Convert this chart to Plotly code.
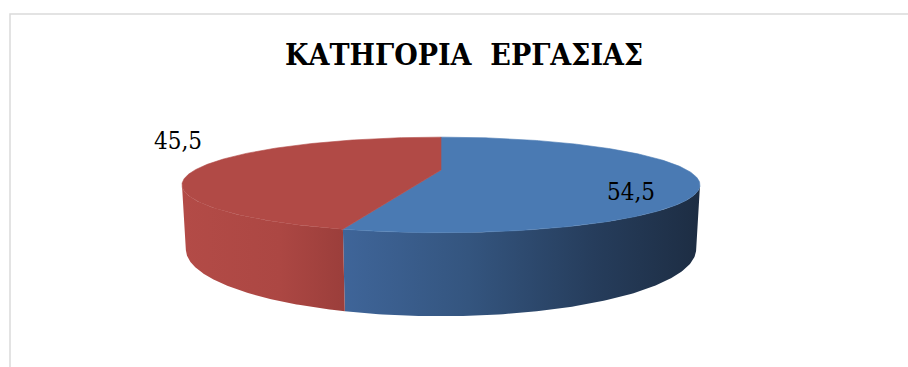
import numpy as np
import plotly.graph_objects as go

# ---------------- data ----------------
categories = ["Κατηγορία 1", "Κατηγορία 2"]
values = [54.5, 45.5]
title_text = "ΚΑΤΗΓΟΡΙΑ\u00a0 ΕΡΓΑΣΙΑΣ"

# ---------------- styles ----------------
top_colors = ["#4A7AB3", "#B14A46"]
side_scales = [
    [[0, "#3F6599"], [0.35, "#34557F"], [0.7, "#263D5C"], [1, "#1D2D43"]],
    [[0, "#B34B47"], [0.6, "#AC4743"], [1, "#9B3E3B"]],
]
label_pos = [(631, 192), (178, 141)]   # label anchor positions (px)
LABEL_FONT = "DejaVu Serif Condensed, DejaVu Serif"
TITLE_FONT = "DejaVu Serif Condensed, DejaVu Serif"

W, H = 908, 367
# perspective camera for the 3D pie
CX, CY = 441.0, 170.0          # screen position of pie centre (top face)
FOC = 775.0                    # focal length (px)
DIST = 3.15                    # camera distance (pie radii)
ALPHA = np.radians(10.1)       # elevation angle
DEPTH = 0.245                  # pie thickness (pie radii)


def project(t, z):
    X = np.cos(t)
    Y = np.sin(t)
    depth = DIST - (Y * np.cos(ALPHA) + z * np.sin(ALPHA))
    xs = CX + FOC * X / depth
    ys = CY + FOC * (Y * np.sin(ALPHA) - z * np.cos(ALPHA)) / depth
    return xs, ys


total = float(sum(values))
start = -np.pi / 2
bounds = []
for v in values:
    end = start + 2 * np.pi * v / total
    bounds.append((start, end))
    start = end

t_vis = np.arcsin(1.0 / (DIST * np.cos(ALPHA)))
vis_lo, vis_hi = t_vis, np.pi - t_vis

fig = go.Figure()

for i, (a, b) in enumerate(bounds):
    for shift in (0, 2 * np.pi, -2 * np.pi):
        lo = max(a + shift, vis_lo)
        hi = min(b + shift, vis_hi)
        if hi > lo:
            ts = np.linspace(lo, hi, 120)
            xt, yt = project(ts, 0.0)
            xb, yb = project(ts[::-1], -DEPTH)
            xs = np.concatenate([xt, xb, xt[:1]])
            ys = np.concatenate([yt, yb, yt[:1]])
            fig.add_trace(go.Scatter(
                x=xs, y=ys, mode="lines", fill="toself",
                line=dict(width=0),
                fillgradient=dict(type="horizontal", colorscale=side_scales[i],
                                  start=float(xs.min()), stop=float(xs.max())),
                name=categories[i], hoverinfo="skip", showlegend=False,
            ))

for i, (a, b) in enumerate(bounds):
    ts = np.linspace(a, b, 300)
    xa, ya = project(ts, 0.0)
    cx0 = np.array([CX]); cy0 = np.array([CY])
    xs = np.concatenate([cx0, xa, cx0])
    ys = np.concatenate([cy0, ya, cy0])
    fig.add_trace(go.Scatter(
        x=xs, y=ys, mode="lines", fill="toself",
        line=dict(width=0.6, color=top_colors[i]), fillcolor=top_colors[i],
        name=categories[i], text=f"{values[i]:.1f}".replace(".", ","),
        hoveron="fills", hoverinfo="name+text", showlegend=False,
    ))

annotations = []
for i, v in enumerate(values):
    lx, ly = label_pos[i]
    annotations.append(dict(
        x=lx, y=ly, xref="x", yref="y", showarrow=False,
        text=f"{v:.1f}".replace(".", ","),
        font=dict(family=LABEL_FONT, size=24, color="#000000"),
        xanchor="center", yanchor="middle",
    ))
annotations.append(dict(
    x=464, y=54, xref="x", yref="y", showarrow=False, text=title_text,
    font=dict(family=TITLE_FONT, size=30, color="#000000", weight="bold"),
    xanchor="center", yanchor="middle",
))

fig.update_layout(
    width=W, height=H, margin=dict(l=0, r=0, t=0, b=0),
    paper_bgcolor="white", plot_bgcolor="white",
    xaxis=dict(range=[0, W], visible=False, fixedrange=True),
    yaxis=dict(range=[H, 0], visible=False, fixedrange=True),
    annotations=annotations,
    shapes=[dict(type="rect", xref="x", yref="y", x0=10, y0=14, x1=W + 10, y1=H + 10,
                 line=dict(color="#DADADA", width=1.5), fillcolor="rgba(0,0,0,0)",
                 layer="below")],
    showlegend=False,
)

fig.write_html("out.html")
